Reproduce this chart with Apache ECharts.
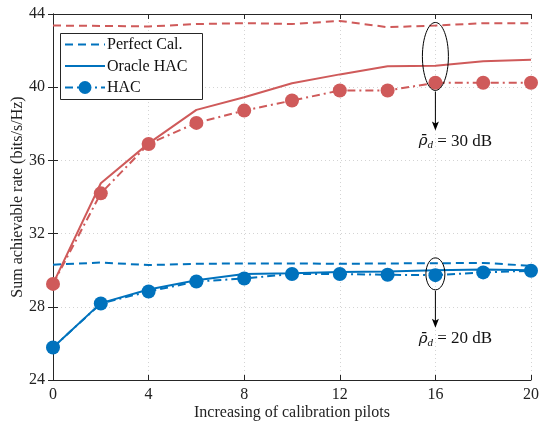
<!DOCTYPE html>
<html><head><meta charset="utf-8">
<script src="https://cdn.jsdelivr.net/npm/echarts@6/dist/echarts.min.js"></script>
<style>html,body{margin:0;padding:0;background:#fff}#c{width:541px;height:426px}</style>
</head><body><div id="c"></div>
<script>
const xVals = [0, 2, 4, 6, 8, 10, 12, 14, 16, 18, 20];
const perfect30 = [43.37, 43.35, 43.32, 43.45, 43.5, 43.45, 43.62, 43.28, 43.37, 43.5, 43.5];
const oracle30 = [29.25, 34.75, 36.93, 38.76, 39.45, 40.22, 40.7, 41.15, 41.17, 41.42, 41.5];
const hac30 = [29.25, 34.2, 36.9, 38.05, 38.72, 39.27, 39.82, 39.82, 40.24, 40.24, 40.24];
const perfect20 = [30.3, 30.42, 30.28, 30.35, 30.37, 30.37, 30.35, 30.37, 30.38, 30.4, 30.24];
const oracle20 = [25.78, 28.2, 28.95, 29.45, 29.79, 29.84, 29.9, 29.93, 30.0, 30.04, 30.0];
const hac20 = [25.78, 28.18, 28.84, 29.38, 29.55, 29.79, 29.79, 29.75, 29.73, 29.88, 29.97];
const xTicks = [0, 4, 8, 12, 16, 20];
const yTicks = [24, 28, 32, 36, 40, 44];
const legendNames = ['Perfect Cal.', 'Oracle HAC', 'HAC'];
const ann30 = {x: 16, y: 41.68, label: '30 dB'};
const ann20 = {x: 16, y: 29.8, label: '20 dB'};

const BLUE = '#0072BD', RED = '#CF5A5A';
const FONT = '"Liberation Serif", "DejaVu Serif", serif';
const pairs = arr => arr.map((v, i) => [xVals[i], v]);
const dashed = [8, 5];
const dashDot = [8, 4, 2, 4];
const styles = [{type: dashed, sym: false}, {type: 'solid', sym: false}, {type: dashDot, sym: true}];

function mk(name, data, color, type, withSym) {
  return {
    name, type: 'line', data: pairs(data),
    lineStyle: {color, width: 2, type},
    itemStyle: {color},
    symbol: withSym ? 'circle' : 'none',
    symbolSize: 14, showSymbol: !!withSym,
    animation: false, z: withSym ? 3 : 2
  };
}

const chart = echarts.init(document.getElementById('c'), null, {renderer: 'canvas'});
const axisCommon = {
  axisLine: {show: true, lineStyle: {color: '#262626', width: 1}},
  axisTick: {show: true, inside: true, length: 5, lineStyle: {color: '#262626'}},
};
chart.setOption({
  backgroundColor: '#fff',
  animation: false,
  grid: {left: 53, right: 10, top: 14, bottom: 46, containLabel: false, outerBoundsMode: 'none'},
  xAxis: [{
    type: 'value', min: 0, max: 20, interval: 4,
    name: 'Increasing of calibration pilots', nameLocation: 'middle', nameGap: 25,
    nameMoveOverlap: false,
    nameTextStyle: {fontFamily: FONT, fontSize: 16, color: '#222'},
    axisLabel: {fontFamily: FONT, fontSize: 16, color: '#222', margin: 7},
    splitLine: {show: true, lineStyle: {color: '#d4d4d4', type: [1, 3]}},
    ...axisCommon
  }, {
    type: 'value', min: 0, max: 20, interval: 4, position: 'top',
    axisLabel: {show: false}, splitLine: {show: false}, ...axisCommon
  }],
  yAxis: [{
    type: 'value', min: 24, max: 44, interval: 4,
    name: 'Sum achievable rate (bits/s/Hz)', nameLocation: 'middle', nameGap: 27,
    nameMoveOverlap: false,
    nameTextStyle: {fontFamily: FONT, fontSize: 16, color: '#222'},
    axisLabel: {fontFamily: FONT, fontSize: 16, color: '#222', margin: 8},
    splitLine: {show: true, lineStyle: {color: '#d4d4d4', type: [1, 3]}},
    ...axisCommon
  }, {
    type: 'value', min: 24, max: 44, interval: 4, position: 'right',
    axisLabel: {show: false}, splitLine: {show: false}, ...axisCommon
  }],
  series: [
    mk(legendNames[0], perfect20, BLUE, dashed, false),
    mk(legendNames[1], oracle20, BLUE, 'solid', false),
    mk(legendNames[2], hac20, BLUE, dashDot, true),
    mk(legendNames[0], perfect30, RED, dashed, false),
    mk(legendNames[1], oracle30, RED, 'solid', false),
    mk(legendNames[2], hac30, RED, dashDot, true),
  ]
});

function annotation(a, rx, ry, arrowLen, textGap) {
  const p = chart.convertToPixel({xAxisIndex: 0, yAxisIndex: 0}, [a.x, a.y]);
  const cx = p[0], cy = p[1];
  const y0 = cy + ry + 1, y1 = y0 + arrowLen;
  return [
    {type: 'ellipse', shape: {cx, cy, rx, ry}, style: {fill: null, stroke: '#000', lineWidth: 1}, z: 10},
    {type: 'line', shape: {x1: cx, y1: y0, x2: cx, y2: y1 - 6}, style: {stroke: '#000', lineWidth: 1}, z: 10},
    {type: 'polygon', shape: {points: [[cx - 3.5, y1 - 9], [cx, y1 - 7], [cx + 3.5, y1 - 9], [cx, y1]]}, style: {fill: '#000'}, z: 10},
    {type: 'text', x: cx + 20, y: y1 + textGap, z: 10,
      style: {
        text: '{r|ρ̄}{s|d}{n| = ' + a.label + '}',
        align: 'center', verticalAlign: 'middle',
        font: '17px ' + FONT, fill: '#111',
        rich: {
          r: {fontFamily: '"DejaVu Serif", serif', fontStyle: 'italic', fontSize: 15, fill: '#111'},
          s: {fontFamily: FONT, fontStyle: 'italic', fontSize: 11, fill: '#111', padding: [8, 0, 0, 0]},
          n: {fontFamily: FONT, fontSize: 17, fill: '#111'}
        }
      }}
  ];
}

function legendGraphic() {
  const x0 = 60, y0 = 33, w = 142, h = 66;
  const out = [{type: 'rect', shape: {x: x0 + 0.5, y: y0 + 0.5, width: w, height: h},
    style: {fill: '#fff', stroke: '#262626', lineWidth: 1}, z: 20}];
  legendNames.forEach((nm, i) => {
    const yy = y0 + 11.5 + i * 21.5;
    out.push({type: 'line', shape: {x1: x0 + 5, y1: yy, x2: x0 + 45, y2: yy},
      style: {stroke: BLUE, lineWidth: 2, lineDash: styles[i].type === 'solid' ? null : styles[i].type}, z: 21});
    if (styles[i].sym) out.push({type: 'circle', shape: {cx: x0 + 25, cy: yy, r: 6.5}, style: {fill: BLUE}, z: 22});
    out.push({type: 'text', x: x0 + 47, y: yy + 0.5, z: 22,
      style: {text: nm, font: '16px ' + FONT, fill: '#111', verticalAlign: 'middle', align: 'left'}});
  });
  return out;
}

chart.setOption({graphic: [
  ...annotation(ann30, 13, 34, 39, 11),
  ...annotation(ann20, 9.5, 16, 37, 11),
  ...legendGraphic()
]});
</script></body></html>
